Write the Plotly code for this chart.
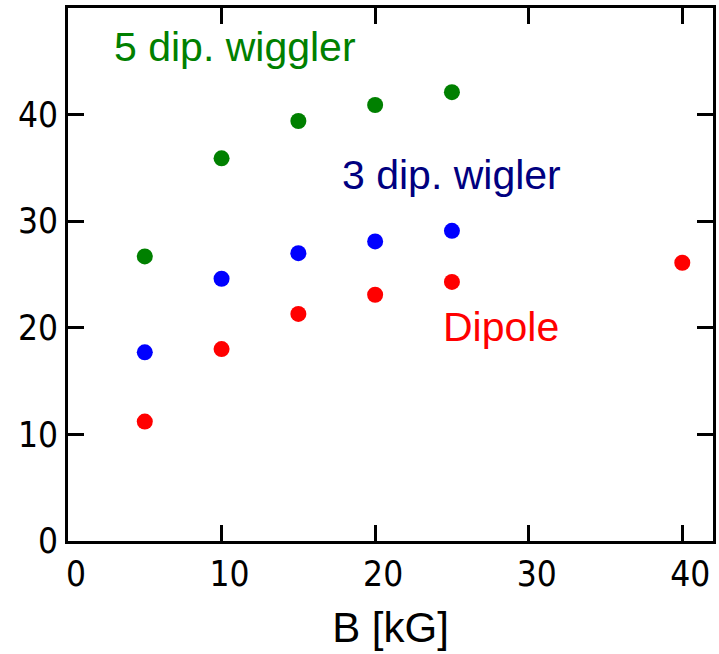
import plotly.graph_objects as go

x5 = [5, 10, 15, 20, 25]
y5 = [26.7, 35.9, 39.4, 40.9, 42.1]
x3 = [5, 10, 15, 20, 25]
y3 = [17.7, 24.6, 27.0, 28.1, 29.1]
xd = [5, 10, 15, 20, 25, 40]
yd = [11.2, 18.0, 21.3, 23.1, 24.3, 26.1]

series = [
    ("5 dip. wiggler", x5, y5, "#008000"),
    ("3 dip. wigler", x3, y3, "#0000FF"),
    ("Dipole", xd, yd, "#FF0000"),
]

labels = [
    ("5 dip. wiggler", 10.9, 46.3, "#008000"),
    ("3 dip. wigler", 25.0, 34.3, "#000080"),
    ("Dipole", 28.2, 20.1, "#FF0000"),
]

fig = go.Figure()
for name, xs, ys, c in series:
    fig.add_trace(go.Scatter(x=xs, y=ys, mode="markers", name=name,
                             marker=dict(color=c, size=16, line=dict(width=0))))

for t, x, y, c in labels:
    fig.add_annotation(x=x, y=y, text=t, showarrow=False,
                       font=dict(family="Liberation Sans, Arial, sans-serif", size=41, color=c),
                       xanchor="center", yanchor="middle")

tickfont = dict(family="Liberation Sans Narrow, DejaVu Sans Condensed, Liberation Sans, sans-serif",
                size=35, color="black")
axis_common = dict(showgrid=False, zeroline=False, showline=True, linecolor="black", linewidth=3,
                   mirror="ticks", ticks="inside", ticklen=16, tickwidth=3, tickcolor="black",
                   tickfont=tickfont)

fig.update_xaxes(range=[0, 42], tickvals=[0, 10, 20, 30, 40], ticktext=["0", "10", "20", "30", "40"],
                 title=dict(text="B [kG]", font=dict(family="Liberation Sans, Arial, sans-serif", size=42, color="black"),
                            standoff=20),
                 ticklabelshift=8, **axis_common)
fig.update_yaxes(range=[0, 50], tickvals=[0, 10, 20, 30, 40], ticktext=["0", "10", "20", "30", "40"],
                 **axis_common)

fig.update_layout(width=719, height=654, margin=dict(l=68, r=3, t=8, b=113),
                  plot_bgcolor="white", paper_bgcolor="white", showlegend=False)

fig.write_html("out.html")
